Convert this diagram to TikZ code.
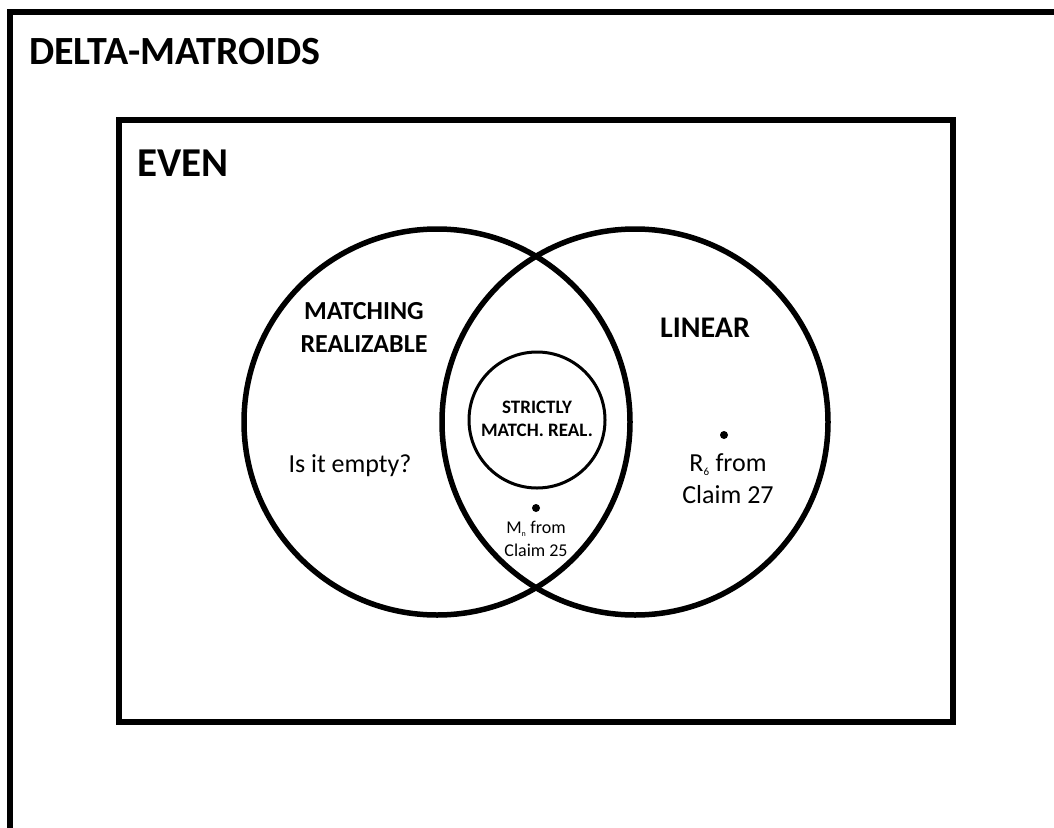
\documentclass[tikz,border=0pt]{standalone}
\usepackage{fontspec}
\setmainfont{Carlito}
\newcommand{\tinysub}[2]{\textsubscript{\fontsize{#2}{#2}\selectfont #1}}
\begin{document}
\begin{tikzpicture}[x=1pt,y=-1pt,
  frame/.style={line width=6pt,draw=black},
  bigcirc/.style={line width=5.5pt,draw=black},
  smallcirc/.style={line width=3pt,draw=black},
  dotmark/.style={circle,fill=black,inner sep=0pt,minimum size=8pt},
  lbl/.style={align=center,inner sep=0pt,font=\fontsize{26}{32}\selectfont},
  blbl/.style={align=center,inner sep=0pt,font=\bfseries\fontsize{26}{33}\selectfont},
  title/.style={anchor=west,inner sep=0pt,font=\bfseries\fontsize{40}{44}\selectfont}
]
\useasboundingbox (0,0) rectangle (1054,827);
\fill[white] (0,0) rectangle (1054,827);
% outer frame (extends past the page)
\draw[frame] (10,840) -- (10,12) -- (1070,12);
\node[title] (delta) at (29,52) {DELTA-MATROIDS};
% inner rectangle
\draw[frame] (119,120) rectangle (953,722);
\node[title,font=\bfseries\fontsize{41}{44}\selectfont] (even) at (137,163) {EVEN};
% circles
\node[bigcirc,circle,minimum size=386pt,inner sep=0pt] (mr) at (437,422) {};
\node[bigcirc,circle,minimum size=386pt,inner sep=0pt] (lin) at (635,422) {};
\node[smallcirc,circle,minimum size=136pt,inner sep=0pt] (smr) at (537,420) {};
% labels
\node[blbl] (mrl) at (364,327) {MATCHING\\REALIZABLE};
\node[blbl,font=\bfseries\fontsize{30}{34}\selectfont] (linl) at (705,328) {LINEAR};
\node[blbl,font=\bfseries\fontsize{19}{23}\selectfont] (smrl) at (537,419) {STRICTLY\\MATCH. REAL.};
\node[lbl] (empty) at (350,466) {Is it empty?};
\node[dotmark] (d1) at (536,508) {};
\node[lbl,font=\fontsize{18}{23}\selectfont] (d1l) at (536,539) {M\tinysub{n}{8} from\\Claim 25};
\node[dotmark] (d2) at (724,435) {};
\node[lbl] (d2l) at (728,479) {R\tinysub{6}{11} from\\Claim 27};
\end{tikzpicture}
\end{document}
